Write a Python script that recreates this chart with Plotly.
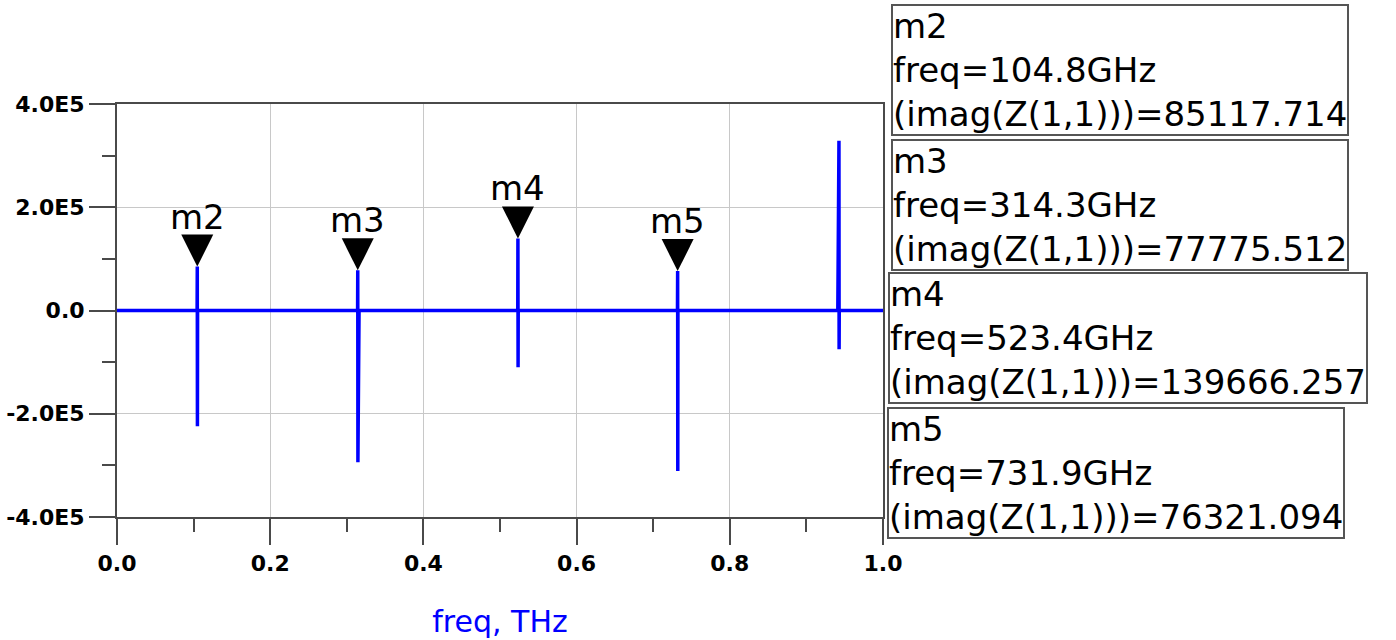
import plotly.graph_objects as go

# ---------------- data ----------------
# trace imag(Z(1,1)) versus frequency (THz)
freq_thz = [0.0000, 0.1046, 0.1048, 0.1050, 0.1052,
            0.3141, 0.3143, 0.3145, 0.3158, 0.3160,
            0.5232, 0.5234, 0.5236, 0.5238,
            0.7317, 0.7319, 0.7321, 0.7323,
            0.9410, 0.9412, 0.9425, 0.9427, 0.9429,
            1.0000]
imag_z11 = [0, 0, 85117.714, -224000, 0,
            0, 77775.512, -294000, -143000, 0,
            0, 139666.257, -110000, 0,
            0, 76321.094, -311000, 0,
            0, 143000, 329000, -75000, 0,
            0]

# markers
marker_names = ["m2", "m3", "m4", "m5"]
marker_freq_thz = [0.1048, 0.3143, 0.5234, 0.7319]
marker_value = [85117.714, 77775.512, 139666.257, 76321.094]

# axis ticks
x_tickvals = [0.0, 0.2, 0.4, 0.6, 0.8, 1.0]
x_ticktext = ["0.0", "0.2", "0.4", "0.6", "0.8", "1.0"]
y_tickvals = [400000, 200000, 0, -200000, -400000]
y_ticktext = ["4.0E5", "2.0E5", "0.0", "-2.0E5", "-4.0E5"]

# ---------------- layout geometry ----------------
W, H = 1396, 640
L, R, T, B = 117, 513, 104, 123
PW, PH = W - L - R, H - T - B
FONT = "DejaVu Sans"
AXC = "#4a4a4a"

# readout boxes: left/top pixel of each box
box_left_px = [891, 891, 888, 887]
box_top_px = [4, 139, 272, 407]


def px_to_paper_x(px):
    return (px - L) / PW


def px_to_paper_y(py):
    return (H - B - py) / PH


fig = go.Figure()
fig.add_trace(go.Scatter(
    x=freq_thz, y=imag_z11, mode="lines",
    line=dict(color="#0000ff", width=3.5),
    hoverinfo="skip", showlegend=False, cliponaxis=True))

fig.add_trace(go.Scatter(
    x=marker_freq_thz, y=marker_value, mode="markers",
    marker=dict(symbol="arrow-down", size=32, color="black",
                line=dict(width=0)),
    hoverinfo="skip", showlegend=False, cliponaxis=False))

annotations = []
for name, f, v in zip(marker_names, marker_freq_thz, marker_value):
    annotations.append(dict(
        x=f, y=v, xref="x", yref="y", text=name, showarrow=False,
        yshift=50, xanchor="center", yanchor="middle",
        font=dict(family=FONT, size=34, color="black")))

for name, f, v, bx, by in zip(marker_names, marker_freq_thz, marker_value,
                              box_left_px, box_top_px):
    txt = f"{name}<br>freq={f*1000:.1f}GHz<br>(imag(Z(1,1)))={v:.3f}"
    annotations.append(dict(
        x=px_to_paper_x(bx), y=px_to_paper_y(by), xref="paper", yref="paper",
        xanchor="left", yanchor="top", align="left", showarrow=False,
        text=txt, font=dict(family=FONT, size=34, color="black"),
        bordercolor="#555555", borderwidth=2, borderpad=0,
        bgcolor="white"))

axis_common = dict(
    showline=True, linecolor=AXC, linewidth=2, mirror=True,
    ticks="outside", ticklen=26, tickwidth=2, tickcolor=AXC,
    showgrid=True, gridcolor="#c8c8c8", gridwidth=1,
    zeroline=False, automargin=False,
    tickfont=dict(family=FONT, size=22, color="black", weight="bold"),
)

fig.update_layout(
    width=W, height=H,
    margin=dict(l=L, r=R, t=T, b=B, pad=0, autoexpand=False),
    paper_bgcolor="white", plot_bgcolor="white",
    font=dict(family=FONT, color="black"),
    xaxis=dict(range=[0, 1], tickmode="array", tickvals=x_tickvals,
               ticktext=x_ticktext,
               minor=dict(dtick=0.1, ticks="outside", ticklen=13,
                          tickwidth=2, tickcolor=AXC, showgrid=False),
               title=dict(text="freq, THz", standoff=36,
                          font=dict(family=FONT, size=30, color="#0000ff")),
               **axis_common),
    yaxis=dict(range=[-400000, 400000], tickmode="array",
               tickvals=y_tickvals, ticktext=y_ticktext,
               minor=dict(dtick=100000, ticks="outside", ticklen=13,
                          tickwidth=2, tickcolor=AXC, showgrid=False),
               **axis_common),
    annotations=annotations,
    showlegend=False,
)

fig.write_html("out.html")
